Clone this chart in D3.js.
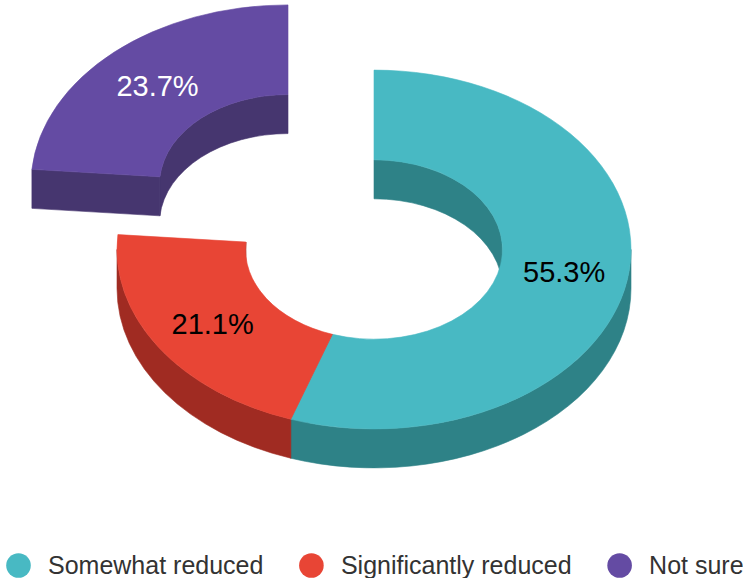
<!DOCTYPE html>
<html>
<head>
<meta charset="utf-8">
<script src="https://cdn.jsdelivr.net/npm/d3@7"></script>
<style>
  html, body { margin: 0; padding: 0; background: #ffffff; }
  svg { display: block; }
</style>
</head>
<body>
<svg id="chart" width="743" height="578"></svg>
<script>
// Survey answers and their shares (%)
const categories = ["Somewhat reduced", "Significantly reduced", "Not sure"];
const shares = [55.3, 21.1, 23.7];
const slicedOut = [false, false, true];

// Face colours: top surface and darker side walls
const topColors  = ["#48b9c3", "#e84535", "#644ba3"];
const sideColors = ["#2e8287", "#a02b22", "#46366f"];
const labelColors = ["#000000", "#000000", "#ffffff"];

const W = 743, H = 578;
const cx = 374, cy = 249.5;       // centre of the donut top face
const R = 257, Ri = 128.5;         // outer / inner radius (ground plane)
const k = 0.698;                   // vertical squash from the tilt
const depthPx = 39;                // thickness on screen
const dz = depthPx / k;            // thickness in ground units
const sliceOffset = 127;           // pull-out distance of the sliced piece

const svg = d3.select("#chart");

const pie = d3.pie().sort(null).value(d => d);
const arcs = pie(shares).map((a, i) => {
  const mid = (a.startAngle + a.endAngle) / 2;
  const off = slicedOut[i] ? sliceOffset : 0;
  return Object.assign(a, {
    i, mid,
    ox: off * Math.sin(mid),
    oy: -off * Math.cos(mid)
  });
});

const scene = svg.append("g")
  .attr("transform", `translate(${cx},${cy}) scale(1,${k})`);

const HALF = Math.PI / 2;

// visible part of [a0,a1] within [lo,hi]
function clipRange(a0, a1, lo, hi) {
  const s = Math.max(a0, lo), e = Math.min(a1, hi);
  return e > s ? [s, e] : null;
}

// curved wall between the top and bottom rims at radius r
function wallPath(r, a0, a1) {
  const p = d3.path();
  p.arc(0, 0, r, a0 - HALF, a1 - HALF, false);
  p.arc(0, dz, r, a1 - HALF, a0 - HALF, true);
  p.closePath();
  return p.toString();
}

// flat radial face at angle a
function capPath(a) {
  const s = Math.sin(a), c = -Math.cos(a);
  const p = d3.path();
  p.moveTo(Ri * s, Ri * c);
  p.lineTo(R * s, R * c);
  p.lineTo(R * s, R * c + dz);
  p.lineTo(Ri * s, Ri * c + dz);
  p.closePath();
  return p.toString();
}

function addShape(a, d, fill) {
  scene.append("path")
    .attr("transform", `translate(${a.ox},${a.oy})`)
    .attr("d", d)
    .attr("fill", fill)
    .attr("stroke", fill)
    .attr("stroke-width", 0.6)
    .attr("vector-effect", "non-scaling-stroke");
}

// 1. inner walls (back half of the hole)
arcs.forEach(a => {
  [[-HALF, HALF], [3 * HALF, 5 * HALF]].forEach(([lo, hi]) => {
    const r = clipRange(a.startAngle, a.endAngle, lo, hi);
    if (r) addShape(a, wallPath(Ri, r[0], r[1]), sideColors[a.i]);
  });
});

// 2. radial end faces that turn towards the viewer
arcs.forEach(a => {
  if (-Math.sin(a.startAngle) > 1e-3) addShape(a, capPath(a.startAngle), sideColors[a.i]);
  if (Math.sin(a.endAngle) > 1e-3) addShape(a, capPath(a.endAngle), sideColors[a.i]);
});

// 3. outer walls (front half)
arcs.forEach(a => {
  const r = clipRange(a.startAngle, a.endAngle, HALF, 3 * HALF);
  if (r) addShape(a, wallPath(R, r[0], r[1]), sideColors[a.i]);
});

// 4. top faces
const topArc = d3.arc().innerRadius(Ri).outerRadius(R);
arcs.forEach(a => addShape(a, topArc(a), topColors[a.i]));

// percentage labels in the middle of each ring piece
const rl = (R + Ri) / 2;
svg.append("g")
  .selectAll("text")
  .data(arcs)
  .join("text")
  .attr("x", a => cx + a.ox + rl * Math.sin(a.mid))
  .attr("y", a => cy + k * (a.oy - rl * Math.cos(a.mid)))
  .attr("dy", "0.36em")
  .attr("text-anchor", "middle")
  .attr("font-family", "'Liberation Sans', Arial, Helvetica, sans-serif")
  .attr("font-size", 29)
  .attr("fill", a => labelColors[a.i])
  .text(a => d3.format(".1f")(a.value) + "%");

// legend along the bottom
const legend = svg.append("g").attr("transform", "translate(0,565.5)");
let lx = 6;
categories.forEach((name, i) => {
  const item = legend.append("g");
  item.append("circle")
    .attr("cx", lx + 12.5)
    .attr("cy", 0)
    .attr("r", 12.3)
    .attr("fill", topColors[i]);
  const t = item.append("text")
    .attr("x", lx + 42)
    .attr("y", 0)
    .attr("dy", "0.35em")
    .attr("font-family", "'Liberation Sans', Arial, Helvetica, sans-serif")
    .attr("font-size", 25)
    .attr("fill", "#333333")
    .text(name);
  lx += 42 + t.node().getComputedTextLength() + 35.5;
});
</script>
</body>
</html>
